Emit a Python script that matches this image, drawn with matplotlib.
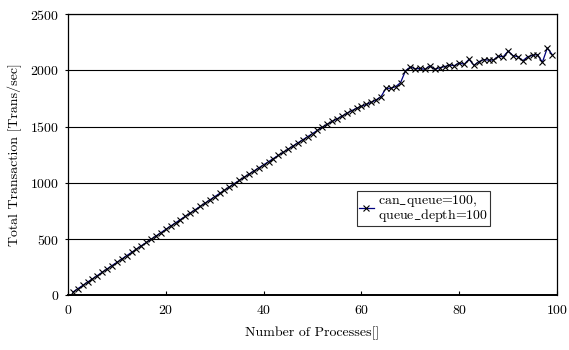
import matplotlib
matplotlib.use("Agg")
import matplotlib.pyplot as plt

plt.rcParams['font.family'] = ['cmr10', 'DejaVu Serif']
plt.rcParams['mathtext.fontset'] = 'cm'
plt.rcParams['axes.formatter.use_mathtext'] = True

processes = list(range(1, 100))
transactions = [
    29, 59, 88, 118, 147, 176, 206, 235, 265, 294,
    323, 353, 382, 411, 441, 470, 499, 528, 557, 587,
    616, 645, 674, 703, 732, 761, 790, 819, 848, 877,
    906, 935, 964, 993, 1021, 1049, 1077, 1105, 1133, 1160,
    1188, 1216, 1244, 1271, 1299, 1327, 1355, 1382, 1410, 1438,
    1466, 1494, 1520, 1545, 1568, 1592, 1617, 1641, 1662, 1680,
    1697, 1715, 1737, 1765, 1840, 1840, 1855, 1890, 1995, 2030,
    2012, 2017, 2008, 2040, 2008, 2023, 2032, 2047, 2041, 2066,
    2053, 2098, 2044, 2076, 2095, 2090, 2092, 2125, 2120, 2170,
    2130, 2120, 2085, 2120, 2133, 2140, 2071, 2198, 2140,
]
series_label = "can$\\_$queue=100,\nqueue$\\_$depth=100"
x_ticks = [0, 20, 40, 60, 80, 100]
y_ticks = [0, 500, 1000, 1500, 2000, 2500]

fig = plt.figure(figsize=(5.69, 3.5), dpi=100)
ax = fig.add_axes([0.1195, 0.156, 0.8595, 0.804])

ax.plot(processes, transactions, color='#000080', lw=0.9,
        marker='x', markersize=4, markeredgecolor='black',
        markeredgewidth=0.8, label=series_label, zorder=3)

ax.set_xlim(0, 100)
ax.set_ylim(0, 2500)
ax.set_xticks(x_ticks)
ax.set_yticks(y_ticks)
ax.yaxis.grid(True, color='black', lw=0.8)
ax.set_axisbelow(True)
ax.tick_params(axis='x', direction='in', length=3, labelsize=10, pad=6)
ax.tick_params(axis='y', direction='out', length=2, labelsize=10, pad=4)
for s in ax.spines.values():
    s.set_linewidth(0.9)
ax.spines['bottom'].set_linewidth(1.4)

ax.set_xlabel("Number of Processes[]", fontsize=10, labelpad=7)
ax.set_ylabel("Total Transaction [Trans/sec]", fontsize=10, labelpad=6)

leg = ax.legend(loc='upper left', bbox_to_anchor=(0.59, 0.372), fontsize=10,
                frameon=True, fancybox=False, edgecolor='black',
                handlelength=1.1, handletextpad=0.3, borderpad=0.15,
                borderaxespad=0, labelspacing=0.1)
for t in leg.get_texts():
    t.set_linespacing(0.85)
leg.get_frame().set_linewidth(0.8)

fig.savefig("out.png", dpi=100)
